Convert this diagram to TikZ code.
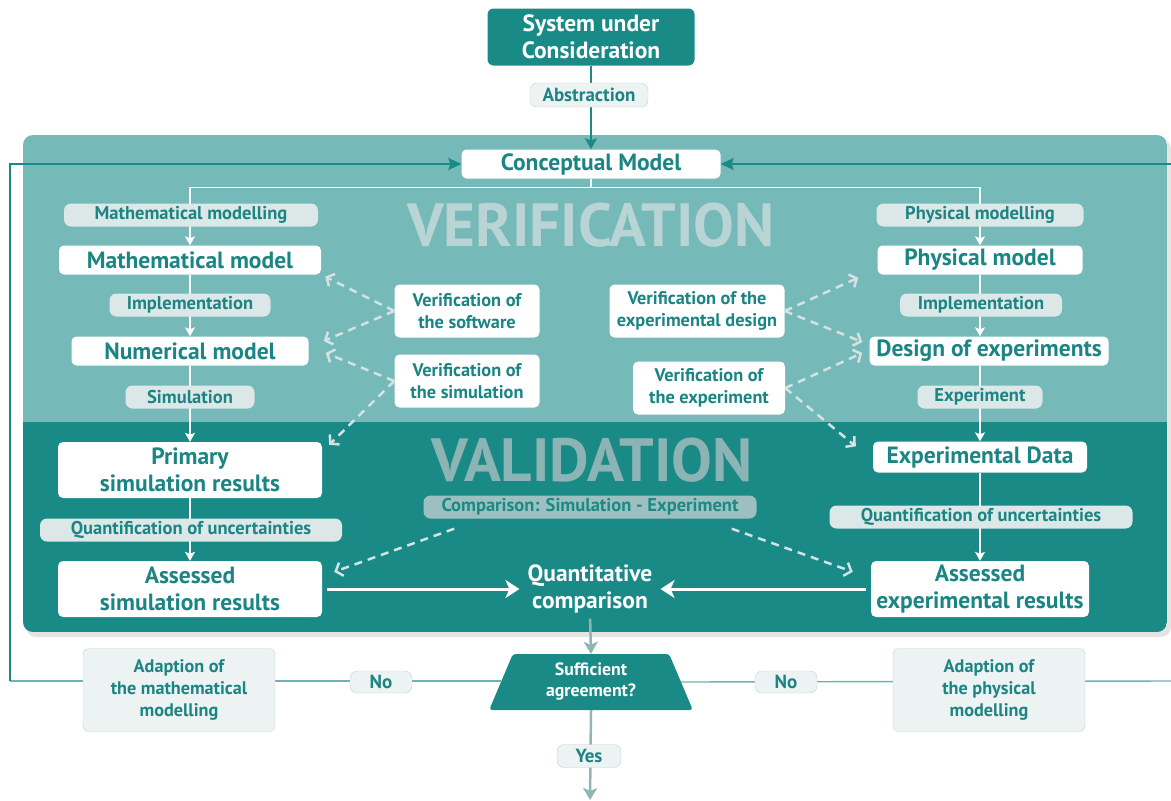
\documentclass[tikz,border=0pt]{standalone}
\usepackage{fontspec}
\setmainfont{PT Sans}
\usetikzlibrary{arrows.meta,shapes.geometric}
\definecolor{darkteal}{HTML}{1A8A87}
\definecolor{lightteal}{HTML}{75B9B8}
\definecolor{textteal}{HTML}{1B8583}
\definecolor{pillgray}{HTML}{DCE7E7}
\definecolor{palegray}{HTML}{EDF2F2}
\definecolor{edgegray}{HTML}{C6D0D0}
\definecolor{dashgray}{HTML}{D3E3E3}
\definecolor{verifgray}{HTML}{B8D4D4}
\definecolor{validgray}{HTML}{8DB4B4}
\definecolor{compgray}{HTML}{9CC0BF}
\definecolor{stemgray}{HTML}{8FB5B5}
\definecolor{loopteal}{HTML}{6DB3B2}
\tikzset{
    model/.style={fill=white,rounded corners=5pt,text=textteal,align=center,inner sep=0pt,
        minimum height=29pt,font=\bfseries\fontsize{23.5}{27.5}\selectfont},
    check/.style={fill=white,rounded corners=5pt,text=textteal,align=center,inner sep=0pt,
        minimum height=53pt,font=\bfseries\fontsize{18.3}{22}\selectfont},
    tag/.style={fill=pillgray,rounded corners=7pt,text=textteal,inner sep=0pt,
        minimum height=23pt,font=\bfseries\fontsize{18.5}{20}\selectfont},
    chip/.style={fill=palegray,draw=edgegray,rounded corners=7pt,text=textteal,inner sep=0pt,
        minimum height=23pt,font=\bfseries\fontsize{19}{20}\selectfont},
    adapt/.style={fill=palegray,draw=edgegray,rounded corners=6pt,text=textteal,align=center,inner sep=0pt,
        minimum width=192pt,minimum height=83pt,font=\bfseries\fontsize{18.2}{22}\selectfont},
    flow/.style={draw=white,line width=1.3pt,-{Stealth[length=9pt,width=10pt,inset=2pt]}},
    push/.style={draw=white,line width=3pt,-{Stealth[length=14pt,width=18pt,inset=4pt]}},
    verif/.style={draw=dashgray,line width=2.5pt,dash pattern=on 8pt off 6pt,
        -{Straight Barb[length=6pt,width=14pt]}},
    stem/.style={draw=stemgray,line width=2.5pt,-{Stealth[length=12pt,width=14pt,inset=3pt]}},
    loopline/.style={draw=darkteal,line width=1.4pt,-{Stealth[length=13pt,width=12pt,inset=2pt]}},
    loopback/.style={draw=loopteal,line width=1.4pt}
}
\begin{document}
\begin{tikzpicture}[x=1pt,y=-1pt]
    \useasboundingbox (0,0) rectangle (1171,801);
    % panel
    \fill[black!30,opacity=0.35,rounded corners=10pt] (26,139) rectangle (1171,637);
    \begin{scope}
        \clip[rounded corners=10pt] (23,135) rectangle (1167,632);
        \fill[lightteal] (23,135) rectangle (1167,422);
        \fill[darkteal] (23,422) rectangle (1167,632);
    \end{scope}
    \node[text=verifgray,font=\bfseries\fontsize{61}{64}\selectfont] (verification) at (591,225) {VERIFICATION};
    \node[text=validgray,font=\bfseries\fontsize{61}{64}\selectfont] (validation) at (592,460) {VALIDATION};

    \node[fill=darkteal,rounded corners=6pt,text=white,align=center,inner sep=0pt,minimum width=207pt,
        minimum height=57pt,font=\bfseries\fontsize{23.5}{27}\selectfont] (system) at (591,37) {System under\\Consideration};
    \node[model,minimum width=259pt] (concept) at (591,164) {Conceptual Model};
    \node[model,minimum width=262pt] (mathmodel) at (190,260) {Mathematical model};
    \node[model,minimum width=237pt] (num) at (190,351) {Numerical model};
    \node[model,minimum width=264pt,minimum height=56pt] (primary) at (190,470) {Primary\\simulation results};
    \node[model,minimum width=264pt,minimum height=56pt] (simassess) at (190,589) {Assessed\\simulation results};
    \node[model,minimum width=205pt] (phys) at (980,260) {Physical model};
    \node[model,minimum width=239pt] (doe) at (989,351) {Design of experiments};
    \node[model,minimum width=214pt,minimum height=31pt] (expdata) at (980,457) {Experimental Data};
    \node[model,minimum width=218pt,minimum height=56pt] (expassess) at (980,589) {Assessed\\experimental results};

    \node[check,minimum width=145pt] (soft) at (467,311) {Verification of\\the software};
    \node[check,minimum width=145pt] (simver) at (467,381) {Verification of\\the simulation};
    \node[check,minimum width=175pt] (design) at (697,311) {Verification of the\\experimental design};
    \node[check,minimum width=152pt] (expver) at (709,388) {Verification of\\the experiment};

    \node[text=white,align=center,inner sep=0pt,font=\bfseries\fontsize{23.5}{27.5}\selectfont] (quant) at (590,589) {Quantitative\\comparison};
    \node[trapezium,trapezium angle=70,trapezium stretches=true,fill=darkteal,rounded corners=3pt,text=white,
        align=center,minimum width=204pt,minimum height=56pt,inner sep=0pt,
        font=\bfseries\fontsize{17.8}{21}\selectfont] (suff) at (591,682) {Sufficient\\agreement?};
    \coordinate (loopL) at (10,681);
    \coordinate (loopR) at (1171,681);
    \coordinate (loopRtop) at (1171,164);
    \coordinate (exit) at (590,800);

    % connectors
    \draw[draw=darkteal,line width=1.4pt,-{Stealth[length=11pt,width=12pt,inset=2pt]}] (system) -- (concept);
    \draw[flow] (concept.south) -- ++(0,9) -| (mathmodel.north);
    \draw[flow] (concept.south) -- ++(0,9) -| (phys.north);
    \draw[flow] (mathmodel) -- (num);
    \draw[flow] (num) -- (primary);
    \draw[flow] (primary) -- (simassess);
    \draw[flow] (phys.south) -- (phys.south |- doe.north);
    \draw[flow] (phys.south |- doe.south) -- (expdata.north);
    \draw[flow] (expdata) -- (expassess);

    \draw[verif] (soft.west) -- ([shift={(4,2)}]mathmodel.south east);
    \draw[verif] (soft.west) -- ([shift={(15,-10)}]num.east);
    \draw[verif] (simver.west) -- ([shift={(17,2)}]num.east);
    \draw[verif] (simver.west) -- ([shift={(7,3)}]primary.north east);
    \draw[verif] (design.east) -- ([shift={(-19,3)}]phys.south west);
    \draw[verif] (design.east) -- ([shift={(-7,-9)}]doe.west);
    \draw[verif] (expver.east) -- ([shift={(-7,2)}]doe.west);
    \draw[verif] (expver.east) -- ([shift={(-17,5)}]expdata.north west);

    \draw[push,shorten <=5pt,shorten >=8pt] (simassess.east) -- (quant.west);
    \draw[push,shorten <=5pt,shorten >=8pt] (expassess.west) -- (quant.east);
    \draw[stem,shorten <=5pt] (quant.south) -- (suff.north);
    \draw[stem] (suff.south) -- (exit);

    \draw[loopback] (suff.west) -- (loopL -| suff.west) -- (loopL);
    \draw[loopline] (loopL) |- (concept.west);
    \draw[loopback] (suff.east) -- (loopR);
    \draw[loopline] (loopRtop) -- (concept.east);

    % labels on the lines
    \node[chip,minimum width=118pt,minimum height=24pt] (abstraction) at (589,95) {Abstraction};
    \node[tag,minimum width=254pt] (tagmath) at (191,215) {Mathematical modelling};
    \node[tag,minimum width=161pt] (tagimpl) at (190,305) {Implementation};
    \node[tag,minimum width=129pt] (tagsim) at (190,397) {Simulation};
    \node[tag,minimum width=302pt] (tagqsim) at (191,530) {Quantification of uncertainties};
    \node[tag,minimum width=207pt] (tagphys) at (980,215) {Physical modelling};
    \node[tag,minimum width=162pt] (tagimpr) at (981,305) {Implementation};
    \node[tag,minimum width=125pt] (tagexp) at (980,397) {Experiment};
    \node[tag,minimum width=303pt] (tagqexp) at (981,517) {Quantification of uncertainties};
    \node[tag,fill=compgray,text=darkteal,minimum width=333pt] (comp) at (590,507) {Comparison: Simulation - Experiment};
    \draw[verif] ([shift={(31,10)}]comp.south west) -- ([shift={(12,11)}]simassess.north east);
    \draw[verif] ([shift={(-25,10)}]comp.south east) -- ([shift={(-18,11)}]expassess.north west);

    \node[adapt] (adaptmath) at (179,690) {Adaption of\\the mathematical\\modelling};
    \node[adapt] (adaptphys) at (989,690) {Adaption of\\the physical\\modelling};
    \node[chip,minimum width=62pt,minimum height=22pt] (noleft) at (381,682) {No};
    \node[chip,minimum width=62pt,minimum height=22pt] (noright) at (786,682) {No};
    \node[chip,minimum width=64pt] (yes) at (589,756) {Yes};
\end{tikzpicture}
\end{document}
